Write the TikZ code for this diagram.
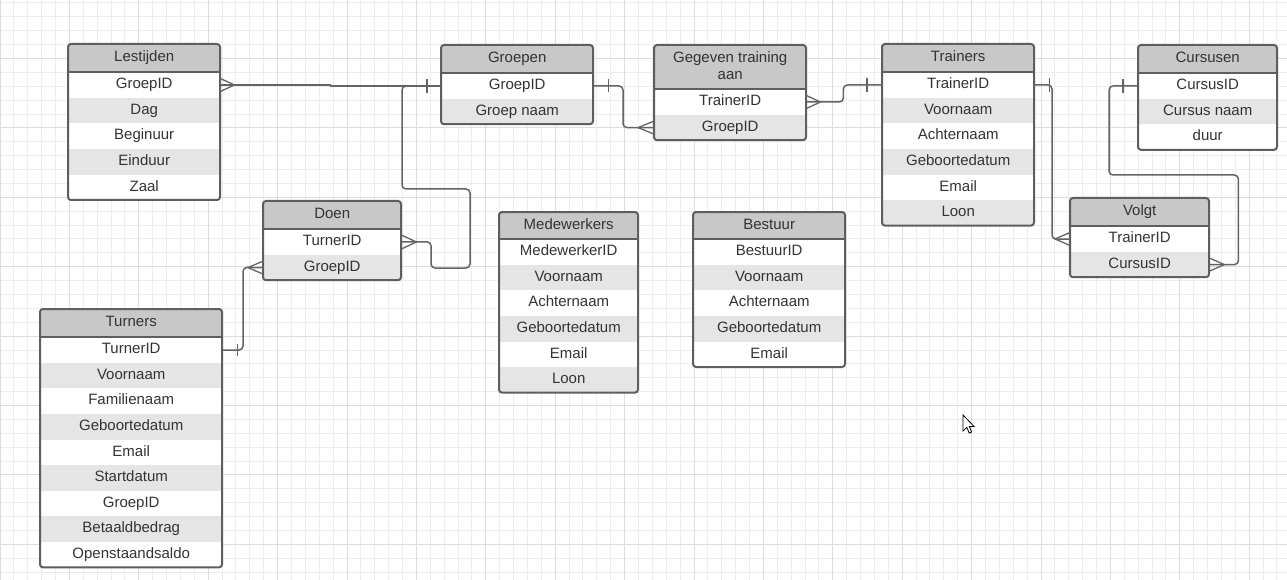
\documentclass[tikz,border=0pt]{standalone}
\usepackage{fontspec}
\setmainfont{Liberation Sans}
\definecolor{gridminor}{RGB}{237,237,237}
\definecolor{gridmajor}{RGB}{220,220,220}
\definecolor{hdrgray}{RGB}{200,200,200}
\definecolor{rowgray}{RGB}{229,229,229}
\definecolor{bordergray}{RGB}{94,94,94}
\definecolor{txtgray}{RGB}{51,51,51}
\definecolor{conngray}{RGB}{100,100,100}
\tikzset{
  minorline/.style={draw=gridminor, line width=1pt},
  majorline/.style={draw=gridmajor, line width=1pt},
  hdrbase/.style={fill=hdrgray, anchor=north west, inner sep=0pt, align=center, text=txtgray, font=\fontsize{15}{17.6}\selectfont},
  hdrone/.style={hdrbase, text height=11pt, text depth=3.5pt},
  hdrtwo/.style={hdrbase},
  rowbox/.style={anchor=north west, inner sep=0pt, text=txtgray, font=\fontsize{15}{17.6}\selectfont, minimum height=25.6pt, text height=11pt, text depth=3.5pt},
  tabborder/.style={draw=bordergray, line width=2pt, rounded corners=3pt},
  hdrline/.style={draw=bordergray, line width=2pt},
  conn/.style={draw=conngray, line width=1.5pt, rounded corners=4pt},
  crowst/.style={draw=conngray, line width=1.3pt},
  cursorst/.style={fill=white, draw=black, line width=0.8pt, line join=miter},
}
% #1 name, #2 x, #3 top y, #4 width, #5 header height, #6 number of rows, #7 title, #8 rows, #9 header style
\newcommand{\ertab}[9]{%
  \begin{scope}
    \clip[rounded corners=3pt] (#2,#3) rectangle ({#2+#4},{#3+#5+#6*25.6});
    \node[#9, minimum width=#4pt, minimum height=#5pt] (#1-h) at (#2,#3) {#7};
    \foreach \rowtxt [count=\i] in {#8} {
      \ifodd\i\relax\def\rowcol{white}\else\def\rowcol{rowgray}\fi
      \node[rowbox, fill=\rowcol, minimum width=#4pt] (#1-\i) at (#2,{#3+#5+(\i-1)*25.6}) {\rowtxt};
    }
  \end{scope}
  \draw[tabborder] (#2,#3) rectangle ({#2+#4},{#3+#5+#6*25.6});
  \draw[hdrline] (#1-h.south west) -- (#1-h.south east);
}
\begin{document}
\begin{tikzpicture}[x=1pt,y=-1pt]
\useasboundingbox (0,0) rectangle (1287,580);
\fill[white] (0,0) rectangle (1287,580);
% grid
\foreach \i in {0,...,92} {\draw[minorline] ({\i*13.88},0) -- ({\i*13.88},580);}
\foreach \j in {0,...,41} {\draw[minorline] (0,{3+\j*13.88}) -- (1287,{3+\j*13.88});}
\foreach \i in {0,...,18} {\draw[majorline] ({\i*69.4},0) -- ({\i*69.4},580);}
\foreach \j in {0,...,7} {\draw[majorline] (0,{58.5+\j*69.4}) -- (1287,{58.5+\j*69.4});}

% tables
\ertab{lest}{68}{44}{152}{28}{5}{Lestijden}{GroepID,Dag,Beginuur,Einduur,Zaal}{hdrone}
\ertab{groep}{441}{45}{152}{28}{2}{Groepen}{GroepID,Groep naam}{hdrone}
\ertab{gg}{654}{45}{152}{44}{2}{Gegeven training\\aan\vphantom{p}}{TrainerID,GroepID}{hdrtwo}
\ertab{tr}{882}{44}{152}{28}{6}{Trainers}{TrainerID,Voornaam,Achternaam,Geboortedatum,Email,Loon}{hdrone}
\ertab{cu}{1138}{45}{139}{28}{3}{Cursusen}{CursusID,Cursus naam,duur}{hdrone}
\ertab{vo}{1070}{198}{139}{28}{2}{Volgt}{TrainerID,CursusID}{hdrone}
\ertab{doen}{263}{201}{138}{28}{2}{Doen}{TurnerID,GroepID}{hdrone}
\ertab{turn}{40}{309}{182}{28}{9}{Turners}{TurnerID,Voornaam,Familienaam,Geboortedatum,Email,Startdatum,GroepID,Betaaldbedrag,Openstaandsaldo}{hdrone}
\ertab{mw}{499}{212}{139}{27}{6}{Medewerkers}{MedewerkerID,Voornaam,Achternaam,Geboortedatum,Email,Loon}{hdrone}
\ertab{best}{693}{212}{152}{27}{5}{Bestuur}{BestuurID,Voornaam,Achternaam,Geboortedatum,Email}{hdrone}

% connectors
% Lestijden.GroepID >--| Groepen.GroepID
\draw[conn, rounded corners=0pt] (lest-1.east) -- ++(110,0) |- (groep-1.west);
\draw[crowst] ([yshift=6.5pt]lest-1.east) -- ([xshift=14pt]lest-1.east) -- ([yshift=-6.5pt]lest-1.east);
\draw[crowst] ([xshift=-14pt,yshift=7pt]groep-1.west) -- ([xshift=-14pt,yshift=-7pt]groep-1.west);
% Groepen.GroepID --< Doen.TurnerID
\draw[conn] (groep-1.west) -| (402,189) -| (470,268) -| (431,241.8) -- (doen-1.east);
\draw[crowst] ([yshift=7pt]doen-1.east) -- ([xshift=15pt]doen-1.east) -- ([yshift=-7pt]doen-1.east);
% Doen.GroepID >--| Turners.TurnerID
\draw[conn] (doen-2.west) -- (243,267.4) |- (turn-1.east);
\draw[crowst] ([yshift=6.5pt]doen-2.west) -- ([xshift=-15pt]doen-2.west) -- ([yshift=-6.5pt]doen-2.west);
\draw[crowst] ([xshift=15pt,yshift=6pt]turn-1.east) -- ([xshift=15pt,yshift=-6pt]turn-1.east);
% Groepen.GroepID |--< Gegeven.GroepID
\draw[conn] (groep-1.east) -| ([xshift=-31pt]gg-2.west) -- (gg-2.west);
\draw[crowst] ([xshift=15pt,yshift=6.5pt]groep-1.east) -- ([xshift=15pt,yshift=-6.5pt]groep-1.east);
\draw[crowst] ([yshift=6.5pt]gg-2.west) -- ([xshift=-16pt]gg-2.west) -- ([yshift=-6.5pt]gg-2.west);
% Gegeven.TrainerID >--| Trainers.TrainerID
\draw[conn] (gg-1.east) -- ++(37,0) |- (tr-1.west);
\draw[crowst] ([yshift=6.5pt]gg-1.east) -- ([xshift=14pt]gg-1.east) -- ([yshift=-6.5pt]gg-1.east);
\draw[crowst] ([xshift=-15pt,yshift=7pt]tr-1.west) -- ([xshift=-15pt,yshift=-7pt]tr-1.west);
% Trainers.TrainerID |--< Volgt.TrainerID
\draw[conn] (tr-1.east) -| ([xshift=-18pt]vo-1.west) -- (vo-1.west);
\draw[crowst] ([xshift=15pt,yshift=7pt]tr-1.east) -- ([xshift=15pt,yshift=-7pt]tr-1.east);
\draw[crowst] ([yshift=6.5pt]vo-1.west) -- ([xshift=-15pt]vo-1.west) -- ([yshift=-6.5pt]vo-1.west);
% Cursusen.CursusID |--< Volgt.CursusID
\draw[conn] (cu-1.west) -| (1109,175) -| ([xshift=29pt]vo-2.east) -- (vo-2.east);
\draw[crowst] ([xshift=-15pt,yshift=7pt]cu-1.west) -- ([xshift=-15pt,yshift=-7pt]cu-1.west);
\draw[crowst] ([yshift=6.5pt]vo-2.east) -- ([xshift=15pt]vo-2.east) -- ([yshift=-6.5pt]vo-2.east);

% mouse pointer
\begin{scope}[shift={(963,415)}]
  \draw[cursorst] (0,0) -- (0,16) -- (3.8,12.4) -- (6.2,18) -- (8.6,17) -- (6.3,11.4) -- (11,11.4) -- cycle;
\end{scope}
\end{tikzpicture}
\end{document}
